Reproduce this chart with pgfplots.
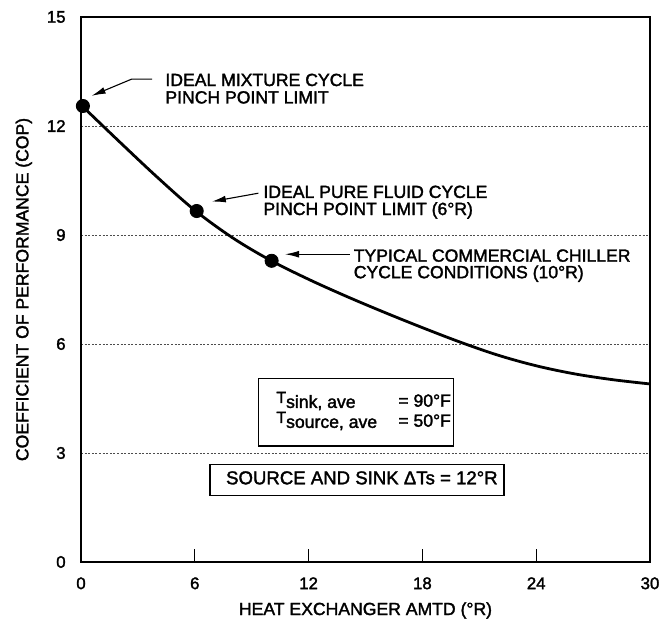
\documentclass[border=0pt]{standalone}
\usepackage{fontspec}
\setmainfont{Liberation Sans}[FakeBold=1.8]
\usepackage{pgfplots}
\pgfplotsset{compat=1.18}
\usetikzlibrary{arrows.meta}
\newcommand\fs{\fontsize{8.8}{10}\selectfont}
\begin{document}
\begin{tikzpicture}
\begin{axis}[
  width=284.5pt, height=272.5pt, scale only axis,
  xmin=0, xmax=30, ymin=0, ymax=15,
  xtick={0,6,12,18,24,30}, ytick={0,3,6,9,12,15},
  xtick pos=bottom, ytick pos=left,
  tick align=inside,
  major tick length=6.5pt,
  ytick style={draw=none},
  xtick style={black, line width=0.6pt},
  axis line style={line width=0.75pt},
  ymajorgrids,
  major grid style={black!70, dash pattern=on 1pt off 0.8pt, line width=0.45pt},
  ticklabel style={font=\fontsize{8.4}{10}\selectfont, /pgf/number format/assume math mode=true},
  yticklabel style={anchor=east, inner sep=0pt, xshift=-7.5pt},
  xticklabel style={anchor=north, inner sep=0pt, yshift=-7.5pt},
  xlabel={HEAT EXCHANGER AMTD (°R)},
  ylabel={COEFFICIENT OF PERFORMANCE (COP)},
  xlabel style={at={(axis description cs:0.5,-0.0973)}, anchor=base, inner sep=0pt, font=\fs},
  ylabel style={at={(axis description cs:-0.0924,0.5)}, anchor=base, inner sep=0pt, font=\fs},
  clip=false,
]
\addplot[black, line width=1.4pt, smooth, tension=0.55] coordinates {
(0,12.58) (2,11.58) (4,10.60) (6,9.68) (8,8.92) (10,8.30) (12,7.78) (14,7.31)
(16,6.87) (18,6.45) (20,6.05) (22,5.69) (24,5.40) (26,5.18) (28,5.02) (30,4.90)};
\addplot[only marks, mark=*, mark size=3.3pt, black] coordinates {(0.1,12.55) (6.1,9.66) (10.05,8.29)};

\draw[line width=0.55pt, -{Latex[length=7pt,width=3.4pt]}] (axis cs:3.75,13.29) -- (axis cs:2.67,13.29) -- (axis cs:0.56,12.83);
\draw[line width=0.55pt, -{Latex[length=7pt,width=3.4pt]}] (axis cs:9.35,10.15) -- (axis cs:6.90,9.92);
\draw[line width=0.55pt, -{Latex[length=7pt,width=3.4pt]}] (axis cs:14.18,8.47) -- (axis cs:10.76,8.47);

\node[anchor=base west, inner sep=0pt, font=\fs] at (axis cs:4.43,13.10) {IDEAL MIXTURE CYCLE};
\node[anchor=base west, inner sep=0pt, font=\fs] at (axis cs:4.43,12.62) {PINCH POINT LIMIT};
\node[anchor=base west, inner sep=0pt, font=\fs] at (axis cs:9.60,10.02) {IDEAL PURE FLUID CYCLE};
\node[anchor=base west, inner sep=0pt, font=\fs] at (axis cs:9.60,9.55) {PINCH POINT LIMIT (6°R)};
\node[anchor=base west, inner sep=0pt, font=\fs] at (axis cs:14.36,8.265) {TYPICAL COMMERCIAL CHILLER};
\node[anchor=base west, inner sep=0pt, font=\fs] at (axis cs:14.36,7.81) {CYCLE CONDITIONS (10°R)};

\draw[line width=0.6pt, fill=white] (axis cs:9.35,3.19) rectangle (axis cs:19.66,5.06);
\node[anchor=base west, inner sep=0pt, font=\fs] at (axis cs:10.28,4.274) {\makebox[61pt][l]{\raisebox{1.9pt}{\fontsize{8}{9}\selectfont T}\raisebox{-0.6pt}{sink, ave}}= 90°F};
\node[anchor=base west, inner sep=0pt, font=\fs] at (axis cs:10.28,3.724) {\makebox[61pt][l]{\raisebox{1.9pt}{\fontsize{8}{9}\selectfont T}\raisebox{-0.6pt}{source, ave}}= 50°F};

\draw[line width=0.6pt, fill=white] (axis cs:6.80,1.825) rectangle (axis cs:22.30,2.69);
\node[anchor=base west, inner sep=0pt, font=\fontsize{9.3}{10}\selectfont] at (axis cs:7.63,2.139) {SOURCE AND SINK ΔTs = 12°R};
\end{axis}
\pgfresetboundingbox
\path[use as bounding box] ([xshift=-40.5pt,yshift=-28.5pt]current axis.south west) rectangle ([xshift=9pt,yshift=8.5pt]current axis.north east);
\end{tikzpicture}
\end{document}
